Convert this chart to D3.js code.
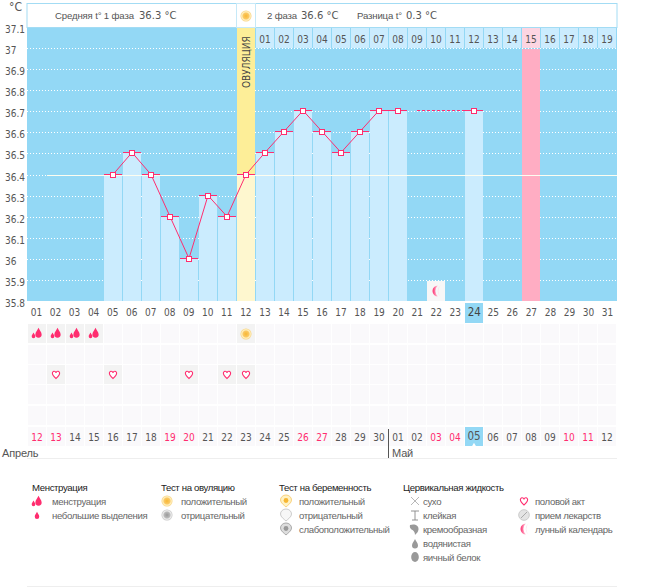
<!DOCTYPE html>
<html><head><meta charset="utf-8">
<script src="https://cdnjs.cloudflare.com/ajax/libs/d3/7.8.5/d3.min.js"></script>
<style>
html,body{margin:0;padding:0;background:#fff}
svg{display:block}
text{font-family:"DejaVu Sans Condensed","DejaVu Sans",sans-serif;font-stretch:condensed;font-size:10px;fill:#555}
text.ru{font-family:"Liberation Sans",sans-serif;font-stretch:normal;font-size:9.6px;letter-spacing:-.36px}
text.hd{font-family:"Liberation Sans",sans-serif;font-stretch:normal;font-size:9.6px;letter-spacing:-.15px}
text.wide{font-family:"DejaVu Sans",sans-serif;font-stretch:normal;font-size:10px}
</style></head><body><svg id="c" width="655" height="587"></svg>
<script>
// ---- data ----
const tempDays = [5,6,7,8,9,10,11,12,13,14,15,16,17,18,19,20];
const tempValues = [36.4,36.5,36.4,36.2,36.0,36.3,36.2,36.4,36.5,36.6,36.7,36.6,36.5,36.6,36.7,36.7];
const gapDays = [21,24];
const gapValues = [36.7,36.7];
const extraBarDays = [24];
const extraBarValues = [36.7];
const yTicks = [37.1,37,36.9,36.8,36.7,36.6,36.5,36.4,36.3,36.2,36.1,36,35.9,35.8];
const cycleDays = d3.range(1,32);
const phaseDayLabels = ["01","02","03","04","05","06","07","08","09","10","11","12","13","14","15","16","17","18","19"];
const calendarLabels = ["12","13","14","15","16","17","18","19","20","21","22","23","24","25","26","27","28","29","30","01","02","03","04","05","06","07","08","09","10","11","12"];
const redCalendarIdx = [0,1,7,8,14,15,21,22,28,29];
const ovulationDay = 12, pinkDay = 27, todayDay = 24, moonDay = 22;
const menstruationDays = [1,2,3,4];
const ovulationTestDays = [12];
const heartDays = [2,5,9,11,12];
const header = {avg1:"36.3 °C",avg2:"36.6 °C",diff:"0.3 °C"};
const legendGroups = [
 {title:"Менструация",tx:32,ix:37,lx:52,items:[["менструация","drops"],["небольшие выделения","drop"]]},
 {title:"Тест на овуляцию",tx:161,ix:167,lx:181,items:[["положительный","sun"],["отрицательный","grey"]]},
 {title:"Тест на беременность",tx:279,ix:286,lx:299,items:[["положительный","psun"],["отрицательный","pneg"],["слабоположительный","pweak"]]},
 {title:"Цервикальная жидкость",tx:403,ix:415,lx:423,items:[["сухо","dry"],["клейкая","sticky"],["кремообразная","cream"],["водянистая","water"],["яичный белок","egg"]]},
 {title:"",tx:0,ix:524,lx:535,items:[["половой акт","heart"],["прием лекарств","pill"],["лунный календарь","moon"]]}
];
// ---- layout ----
const L=27.5,R=617.5,T=27,B=301;
const PINK="#ff2d6f",BLUE="#93d8f5",CELL="#cbecfe";
const band=d3.scaleBand().domain(cycleDays).range([L,R]);
const x=d=>Math.round(band(d));
const colW=19;
const cx=d=>x(d)+9;
const y=d3.scaleLinear().domain([37.1,35.8]).range([T,B]);
const capY=v=>Math.round(y(v))-.5;
const svg=d3.select("#c");
const defs=svg.append("defs");
const rg=defs.append("radialGradient").attr("id","sunG");
rg.append("stop").attr("offset","0%").attr("stop-color","#f7b733");
rg.append("stop").attr("offset","55%").attr("stop-color","#fbc965");
rg.append("stop").attr("offset","75%").attr("stop-color","#fff2c4");
rg.append("stop").attr("offset","100%").attr("stop-color","#f9d27e");
const rg2=defs.append("radialGradient").attr("id","greyG");
rg2.append("stop").attr("offset","0%").attr("stop-color","#999");
rg2.append("stop").attr("offset","55%").attr("stop-color","#bbb");
rg2.append("stop").attr("offset","75%").attr("stop-color","#f0f0f0");
rg2.append("stop").attr("offset","100%").attr("stop-color","#c4c4c4");
const mg=defs.append("linearGradient").attr("id","moonG");
mg.append("stop").attr("offset","0%").attr("stop-color","#ff2d6f");
mg.append("stop").attr("offset","100%").attr("stop-color","#ffd5e2");

// ---- icons ----
function icon(sel,name,px,py){
  const g=sel.append("g").attr("transform",`translate(${px},${py})`);
  const drop=(dx,dy,s,c)=>g.append("path").attr("transform",`translate(${dx},${dy}) scale(${s})`).attr("fill",c)
     .attr("d","M0,-5 C1,-2.5 3,-1 3,1.5 A3,3 0 0 1 -3,1.5 C-3,-1 -1,-2.5 0,-5Z");
  if(name==="drops"){drop(1.5,0,1.05,PINK);drop(-3.5,2.5,0.6,PINK);}
  if(name==="drop"){drop(0,0.5,0.75,PINK);}
  if(name==="sun"||name==="grey"){g.append("circle").attr("r",5.5).attr("fill",`url(#${name==="sun"?"sunG":"greyG"})`);}
  if(name==="psun"||name==="pneg"||name==="pweak"){
    const c={psun:["#f9d27e","#fff2c4"],pneg:["#ccc","#f7f7f7"],pweak:["#aaa","#ddd"]}[name];
    g.append("path").attr("d","M-5.5,-1 A5.5,5 0 0 1 5.5,-1 C5.5,2 2,4 0,6 C-2,4 -5.5,2 -5.5,-1Z").attr("fill",c[1]).attr("stroke",c[0]);
    if(name==="psun")g.append("circle").attr("r",2.4).attr("cy",-0.5).attr("fill","#f7b733");
    if(name==="pweak")g.append("circle").attr("r",2.4).attr("cy",-0.5).attr("fill","#999");
  }
  if(name==="dry"){g.append("path").attr("d","M-4,-4L4,4M4,-4L-4,4").attr("stroke","#999").attr("stroke-width",.7);}
  if(name==="sticky"){g.append("path").attr("d","M-4,-4H4M-3,5H3M0,-4V5").attr("stroke","#888").attr("stroke-width",.9).attr("fill","none");}
  if(name==="cream"){g.append("path").attr("fill","#999").attr("d","M-5,-4 C-1,-5.5 4,-4 3.5,0.5 C3.2,3 1.5,4.5 0,6 C0,3 -1.5,1.5 -3.5,0.5 C-5,-0.5 -5.5,-2.5 -5,-4Z");}
  if(name==="water"){drop(0,1,1,"#999");}
  if(name==="egg"){g.append("ellipse").attr("rx",3.8).attr("ry",5).attr("fill","#999");}
  if(name==="heart"){g.append("path").attr("fill","#fff").attr("stroke",PINK).attr("stroke-width",1.1)
     .attr("d","M0,4 C-2,2.2 -3.6,0.8 -3.6,-1.2 A1.8,1.8 0 0 1 0,-1.6 A1.8,1.8 0 0 1 3.6,-1.2 C3.6,0.8 2,2.2 0,4Z");}
  if(name==="pill"){g.append("circle").attr("r",5.3).attr("fill","#e4e4e4").attr("stroke","#ccc");
     g.append("path").attr("d","M-3,3L3,-3").attr("stroke","#aaa");}
  if(name==="moon"){g.append("path").attr("fill","url(#moonG)").attr("d","M3,-5.5 A5.5,5.5 0 0 0 3,5.5 A7,7 0 0 1 3,-5.5Z").attr("transform","translate(-1,0)");
     g.append("path").attr("fill","#ffd5e2").attr("opacity",.8).attr("d","M3,-5.5 A7,7 0 0 0 3,5.5 A9,9 0 0 1 3,-5.5Z").attr("transform","translate(1.4,0)");}
}

// ---- plot background ----
svg.append("rect").attr("x",27).attr("y",T).attr("width",590).attr("height",B-T).attr("fill",BLUE);
// grid
svg.append("g").selectAll("line").data(yTicks.filter(t=>t!==37.1)).join("line")
 .attr("x1",27).attr("x2",617).attr("y1",d=>Math.round(y(d))+.5).attr("y2",d=>Math.round(y(d))+.5)
 .attr("stroke","#fff").attr("stroke-dasharray","1 2");
// phase two day cells
const phaseCols=cycleDays.filter(d=>d>ovulationDay);
svg.append("g").selectAll("rect").data(phaseCols).join("rect")
 .attr("x",d=>x(d)).attr("y",T+1).attr("width",colW-1).attr("height",20)
 .attr("fill",d=>d===pinkDay?"#fdd5e2":CELL);
// pink column
svg.append("rect").attr("x",x(pinkDay)).attr("y",y(37)+1).attr("width",colW-1).attr("height",B-y(37)-1).attr("fill","#ffadc3");
// ovulation column
svg.append("rect").attr("x",x(ovulationDay)).attr("y",T).attr("width",colW-1).attr("height",y(36.4)-T).attr("fill","#fdee98");
svg.append("rect").attr("x",x(ovulationDay)).attr("y",y(36.4)).attr("width",colW-1).attr("height",B-y(36.4)).attr("fill","#fef7cf");
// bars
const barData=tempDays.map((d,i)=>({d,v:tempValues[i]})).concat(extraBarDays.map((d,i)=>({d,v:extraBarValues[i]})));
svg.append("g").selectAll("rect").data(barData.filter(b=>b.d!==ovulationDay)).join("rect")
 .attr("x",b=>x(b.d)).attr("y",b=>capY(b.v)).attr("width",colW-1).attr("height",b=>B-capY(b.v)).attr("fill",CELL);
// pale 36.4 line
svg.append("line").attr("x1",47).attr("x2",617).attr("y1",Math.round(y(36.4))+.5).attr("y2",Math.round(y(36.4))+.5).attr("stroke","#fdfdf0");
// moon cell
svg.append("rect").attr("x",x(moonDay)).attr("y",B-20).attr("width",colW-1).attr("height",20).attr("fill","#f7f7f7");
icon(svg,"moon",cx(moonDay),B-10);
// caps
svg.append("g").selectAll("line").data(barData).join("line")
 .attr("x1",b=>x(b.d)).attr("x2",b=>x(b.d)+colW-1).attr("y1",b=>capY(b.v)).attr("y2",b=>capY(b.v))
 .attr("stroke",PINK);
// line
const line=d3.line().x(p=>cx(p[0])).y(p=>capY(p[1]));
svg.append("path").attr("d",line(tempDays.map((d,i)=>[d,tempValues[i]]))).attr("fill","none").attr("stroke",PINK);
svg.append("path").attr("d",line(gapDays.map((d,i)=>[d,gapValues[i]])))
 .attr("fill","none").attr("stroke",PINK).attr("stroke-dasharray","3 2");
// markers
svg.append("g").selectAll("rect").data(barData).join("rect")
 .attr("x",b=>cx(b.d)-2.5).attr("y",b=>capY(b.v)-2).attr("width",5).attr("height",5)
 .attr("fill","#fff").attr("stroke",PINK);
// header
svg.append("rect").attr("x",27).attr("y",3.5).attr("width",590).attr("height",24).attr("fill","#fff").attr("stroke","#a3dcf4");
svg.append("rect").attr("x",x(ovulationDay)-.5).attr("y",3.5).attr("width",colW).attr("height",24).attr("fill","#fff").attr("stroke","#c6e9f8");
icon(svg,"sun",cx(ovulationDay),16);
const ht=(tx,t,c)=>svg.append("text").attr("class",c).attr("x",tx).attr("y",19).text(t);
ht(55,"Средняя t° 1 фаза","hd"); ht(139,header.avg1,"wide");
ht(267,"2 фаза","hd"); ht(301,header.avg2,"wide");
ht(357,"Разница t°","hd"); ht(406,header.diff,"wide");
// phase labels
svg.append("g").selectAll("text").data(phaseCols).join("text")
 .attr("x",d=>cx(d)).attr("y",43).attr("text-anchor","middle").text((d,i)=>phaseDayLabels[i]);
svg.append("text").attr("transform",`translate(${cx(ovulationDay)+4},88) rotate(-90)`).style("fill","#444").text("ОВУЛЯЦИЯ");
// y axis
const yAxis=d3.axisLeft(y).tickValues(yTicks).tickSize(0).tickPadding(0).tickFormat(d=>String(d));
const ya=svg.append("g").attr("transform","translate(5,0)").call(yAxis);
ya.select(".domain").remove();
ya.selectAll("text").attr("text-anchor","start").attr("x",0).attr("dy",null).attr("y",5.5);
ya.attr("font-family",null).attr("font-size",null);
svg.append("text").attr("x",9).attr("y",11).style("font-size","12px").text("°C");
// x labels
svg.append("rect").attr("x",x(todayDay)).attr("y",B+2).attr("width",colW-1).attr("height",20).attr("fill",BLUE);
const xa=svg.append("g").attr("transform",`translate(0,${B})`).call(d3.axisBottom(band).tickSize(0).tickPadding(0).tickFormat(d=>d3.format("02")(d)));
xa.select(".domain").remove();
xa.attr("font-family",null).attr("font-size",null);
xa.selectAll("text").attr("y",15).attr("dy",null).attr("x",-.5)
 .style("font-size",d=>d===todayDay?"11.5px":null).style("fill",d=>d===todayDay?"#444":null);
// event rows
const rowY=[324,345,365,385,406];
const rowH=19;
const cells=[];rowY.forEach((ry,r)=>cycleDays.forEach(d=>cells.push({r,ry,d})));
const marked=c=>(c.r===0&&(menstruationDays.includes(c.d)||ovulationTestDays.includes(c.d)))||(c.r===2&&heartDays.includes(c.d));
svg.append("g").selectAll("rect").data(cells).join("rect")
 .attr("x",c=>x(c.d)).attr("y",c=>c.ry).attr("width",colW-1).attr("height",rowH)
 .attr("fill",c=>marked(c)?"#f3f3f3":"#faf9fb");
menstruationDays.forEach(d=>icon(svg,"drops",cx(d),rowY[0]+9));
ovulationTestDays.forEach(d=>icon(svg,"sun",cx(d),rowY[0]+10));
heartDays.forEach(d=>icon(svg,"heart",cx(d),rowY[2]+9.5));
// calendar row
svg.append("g").selectAll("rect").data(cycleDays).join("rect")
 .attr("x",d=>x(d)).attr("y",427).attr("width",colW-1).attr("height",19)
 .attr("fill",(d,i)=>calendarLabels[i]==="05"?BLUE:"#faf9fb");
svg.append("path").attr("d",d3.symbol(d3.symbolTriangle,6)()).attr("fill","#fff").attr("transform",`translate(${cx(todayDay)},445)`);
svg.append("g").selectAll("text").data(cycleDays).join("text")
 .attr("x",d=>cx(d)).attr("y",(d,i)=>calendarLabels[i]==="05"?440:441).attr("text-anchor","middle")
 .style("font-size",(d,i)=>calendarLabels[i]==="05"?"11.5px":null)
 .style("fill",(d,i)=>redCalendarIdx.includes(i)?PINK:null).text((d,i)=>calendarLabels[i]);
// months
svg.append("line").attr("x1",27).attr("x2",617).attr("y1",458.5).attr("y2",458.5).attr("stroke","#eee");
svg.append("line").attr("x1",388.5).attr("x2",388.5).attr("y1",429).attr("y2",458).attr("stroke","#555");
svg.append("text").attr("class","hd").attr("x",2).attr("y",457).style("font-size","11px").text("Апрель");
svg.append("text").attr("class","hd").attr("x",392).attr("y",457).style("font-size","11px").text("Май");
// legend
legendGroups.forEach(g=>{
  if(g.title)svg.append("text").attr("class","ru").attr("x",g.tx).attr("y",491).style("fill","#222").text(g.title);
  g.items.forEach((it,i)=>{
    const ly=501+14*i;
    icon(svg,it[1],g.ix,ly);
    svg.append("text").attr("class","ru").attr("x",g.lx).attr("y",ly+4).style("fill","#666").text(it[0]);
  });
});
svg.append("line").attr("x1",27).attr("x2",617).attr("y1",586.5).attr("y2",586.5).attr("stroke","#eee");
</script></body></html>
